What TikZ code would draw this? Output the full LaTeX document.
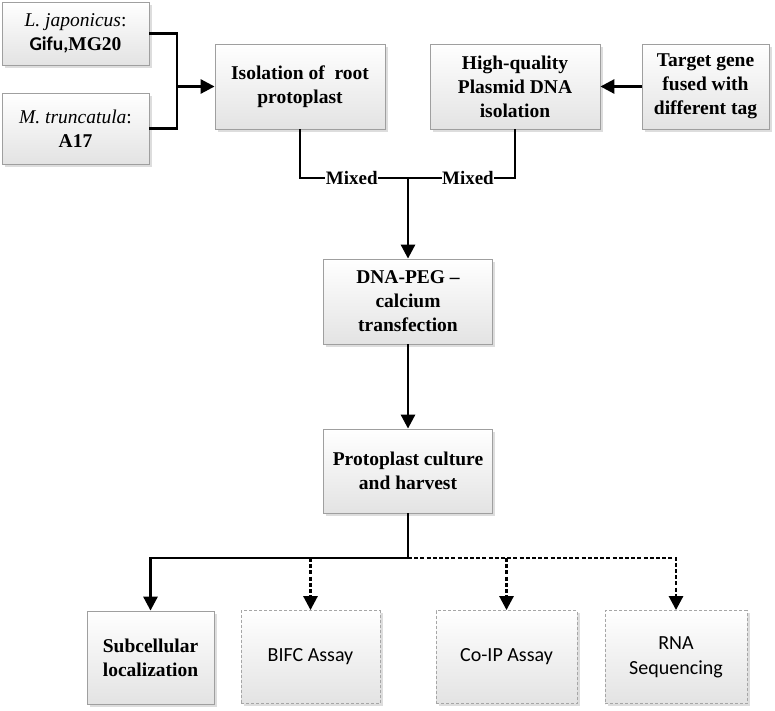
\documentclass[tikz,border=0pt]{standalone}
\usepackage{fontspec}
\setmainfont{Liberation Serif}
\newfontfamily\calibfont{Carlito}
\usetikzlibrary{arrows.meta,shadows}
\begin{document}
\begin{tikzpicture}[x=1pt,y=-1pt,
  box/.style={draw=gray!75, line width=0.8pt, top color=white, bottom color=gray!22,
    align=center, inner sep=1pt,
    font=\fontsize{19.5}{24}\selectfont\bfseries,
    drop shadow={shadow xshift=2.5pt,shadow yshift=-2.5pt,fill=gray!45,opacity=0.6}},
  dbox/.style={box, dash pattern=on 3pt off 2pt, line width=0.9pt, draw=gray!70,
    font=\fontsize{20}{25}\selectfont\calibfont},
  conn/.style={line width=2.8pt, draw=black},
  arr/.style={conn, -{Triangle[length=14pt,width=14pt]}},
  darr/.style={arr, dash pattern=on 4pt off 2.2pt},
  mixed/.style={fill=white, inner sep=0.5pt, font=\fontsize{19}{22}\selectfont\bfseries}]
\useasboundingbox (0,0) rectangle (775,710);
% top row
\node[box, minimum width=147pt, minimum height=63pt] (lj) at (75.5,33.5)
  {\mdseries\itshape L. japonicus\upshape:\\ {\calibfont\bfseries Gifu,}MG20};
\node[box, minimum width=147pt, minimum height=71pt] (mt) at (75.5,128.5)
  {\mdseries\itshape M. truncatula\upshape:\\ A17};
\node[box, minimum width=170pt, minimum height=85pt] (iso) at (300,86.5)
  {Isolation of~ root\\ protoplast};
\node[box, minimum width=170pt, minimum height=85pt] (pla) at (515,86.5)
  {High-quality\\ Plasmid DNA\\ isolation};
\node[box, minimum width=127pt, minimum height=85pt] (tgt) at (705.5,86.5)
  {Target gene\\ fused with\\ different tag};
% middle
\node[box, minimum width=169pt, minimum height=85pt] (dna) at (408,301.5)
  {DNA-PEG –\\ calcium\\ transfection};
\node[box, minimum width=169pt, minimum height=84pt] (pro) at (408,471)
  {Protoplast culture\\ and harvest};
% bottom
\node[box, minimum width=127pt, minimum height=93pt] (sub) at (150.5,657.5)
  {Subcellular\\ localization};
\node[dbox, minimum width=139pt, minimum height=93pt] (bifc) at (310.5,657)
  {BIFC Assay};
\node[dbox, minimum width=141pt, minimum height=93pt] (coip) at (506.5,657)
  {Co-IP Assay};
\node[dbox, minimum width=142pt, minimum height=93pt] (rna) at (676,657)
  {RNA\\ Sequencing};
% connectors
\coordinate (j1) at (177,86.5);
\coordinate (j2) at (408,178);
\coordinate (j3) at (408,558);
\draw[conn] (lj.east) -| (j1);
\draw[conn] (mt.east) -| (j1);
\draw[arr] (j1) -- (iso.west);
\draw[arr] (tgt.west) -- (pla.east);
\draw[conn] (iso.south) |- (j2) node[mixed, pos=0.74] {Mixed};
\draw[conn] (pla.south) |- (j2) node[mixed, pos=0.72] {Mixed};
\draw[arr] (j2) -- (dna.north);
\draw[arr] (dna.south) -- (pro.north);
\draw[conn] (pro.south) -- (j3);
\draw[arr] (j3) -| (sub.north);
\draw[darr] (j3) -| (rna.north);
\draw[darr] (bifc.north |- j3) -- (bifc.north);
\draw[darr] (coip.north |- j3) -- (coip.north);
\end{tikzpicture}
\end{document}
